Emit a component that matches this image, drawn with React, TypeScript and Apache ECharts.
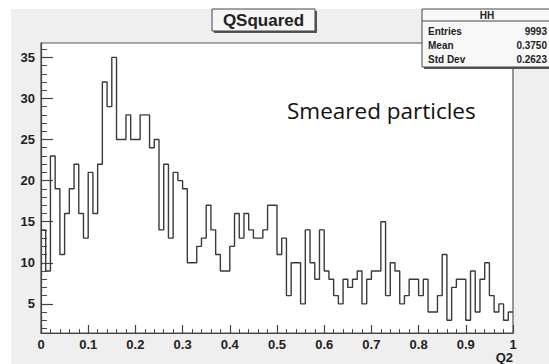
import React, { useEffect, useRef } from "react";
import * as echarts from "echarts";

// 100 bins on [0, 1]
const binCounts: number[] = [
  14, 9, 23, 19, 11, 16, 19, 22, 16, 13,
  21, 16, 22, 32, 29, 35, 25, 25, 28, 25,
  25, 28, 28, 24, 25, 14, 22, 13, 21, 20,
  19, 10, 10, 12, 13, 17, 14, 11, 9, 9,
  12, 16, 13, 16, 14, 13, 13, 14, 17, 17,
  11, 13, 6, 10, 10, 5, 14, 10, 8, 14,
  9, 8, 6, 5, 8, 7, 8, 9, 5, 8,
  9, 9, 15, 6, 10, 9, 5, 6, 8, 8,
  6, 8, 4, 4, 6, 11, 3, 7, 8, 8,
  3, 9, 4, 8, 10, 6, 4, 5, 3, 4,
];
const xMin = 0;
const xMax = 1;
const yMin = 1.45;
const yMax = 36.75;
const yMajorTicks: number[] = [5, 10, 15, 20, 25, 30, 35];
const yMinorTicks: number[] = [
  2, 3, 4, 6, 7, 8, 9, 11, 12, 13, 14, 16, 17, 18, 19, 21, 22, 23, 24,
  26, 27, 28, 29, 31, 32, 33, 34, 36,
];
const titleText = "QSquared";
const statsTitle = "HH";
const statsLabels: string[] = ["Entries", "Mean", "Std Dev"];
const statsValues: string[] = ["9993", "0.3750", "0.2623"];
const annotation = "Smeared particles";
const xAxisName = "Q2";

const W = 549;
const H = 364;
const FRAME = { left: 41, right: 513, top: 43, bottom: 333 };
const AXIS_COLOR = "#444";
const FONT = "'Liberation Sans', Arial, sans-serif";

export default function App() {
  const ref = useRef<HTMLDivElement>(null);
  useEffect(() => {
    if (!ref.current) return;
    const chart = echarts.init(ref.current, undefined, { renderer: "svg" });
    const nBins = binCounts.length;
    const step = (xMax - xMin) / nBins;
    const data: [number, number][] = binCounts.map((v, i) => [xMin + i * step, v]);
    data.push([xMax, binCounts[nBins - 1]]);

    const sBoxL = 422;
    const sBoxT = 9;
    const sBoxW = 135;
    const sBoxH = 58;
    const rowYs = [31, 45, 59];

    const graphic: any[] = [
      { type: "rect", silent: true, shape: { x: 0, y: 0, width: W, height: 9 }, style: { fill: "#fff" }, z: 0 },
      { type: "rect", silent: true, shape: { x: 0, y: 0, width: 11, height: H }, style: { fill: "#fff" }, z: 0 },
      // title box
      { type: "rect", shape: { x: 214, y: 11, width: 103, height: 22 }, style: { fill: "#555" }, z: 10 },
      { type: "rect", shape: { x: 212, y: 9, width: 103, height: 22 }, style: { fill: "#f6f6f6", stroke: "#444", lineWidth: 1 }, z: 11 },
      {
        type: "text", z: 12,
        style: { text: titleText, x: 263.5, y: 20.5, align: "center", verticalAlign: "middle", font: `bold 17px ${FONT}`, fill: "#222" },
      },
      // stats box
      { type: "rect", shape: { x: sBoxL + 2, y: sBoxT + 2, width: sBoxW, height: sBoxH }, style: { fill: "#555" }, z: 10 },
      { type: "rect", shape: { x: sBoxL, y: sBoxT, width: sBoxW, height: sBoxH }, style: { fill: "#f8f8f8", stroke: "#444", lineWidth: 1 }, z: 11 },
      { type: "line", shape: { x1: sBoxL, y1: 21, x2: sBoxL + sBoxW, y2: 21 }, style: { stroke: "#444", lineWidth: 1 }, z: 12 },
      {
        type: "text", z: 12,
        style: { text: statsTitle, x: 487, y: 15.5, align: "center", verticalAlign: "middle", font: `bold 10px ${FONT}`, fill: "#222" },
      },
      ...statsLabels.map((t, i) => ({
        type: "text", z: 12,
        style: { text: t, x: sBoxL + 6, y: rowYs[i], align: "left", verticalAlign: "middle", font: `bold 10px ${FONT}`, fill: "#222" },
      })),
      ...statsValues.map((t, i) => ({
        type: "text", z: 12,
        style: { text: t, x: 547, y: rowYs[i], align: "right", verticalAlign: "middle", font: `bold 10px ${FONT}`, fill: "#222" },
      })),
      // annotation
      {
        type: "text", z: 12,
        style: { text: annotation, x: 287, y: 110, align: "left", verticalAlign: "middle", font: `22.5px 'Open Sans', sans-serif`, fill: "#111" },
      },
      // x axis name
      {
        type: "text", z: 12,
        style: { text: xAxisName, x: 513, y: 357, align: "right", verticalAlign: "middle", font: `bold 13px ${FONT}`, fill: "#222" },
      },
    ];

    chart.setOption({
      animation: false,
      backgroundColor: "#efefef",
      grid: {
        show: true,
        left: FRAME.left,
        right: W - FRAME.right,
        top: FRAME.top,
        bottom: H - FRAME.bottom,
        backgroundColor: "#fff",
        borderColor: "#555",
        borderWidth: 1.2,
      },
      xAxis: {
        type: "value",
        min: xMin,
        max: xMax,
        interval: 0.1,
        axisLine: { show: true, onZero: false, lineStyle: { color: AXIS_COLOR, width: 1.2 } },
        axisTick: { show: true, inside: true, length: 8, lineStyle: { color: AXIS_COLOR, width: 1.2 } },
        minorTick: { show: true, splitNumber: 5, length: 4, lineStyle: { color: AXIS_COLOR, width: 1 } },
        splitLine: { show: false },
        minorSplitLine: { show: false },
        axisLabel: { color: "#222", fontWeight: "bold", fontSize: 13, fontFamily: FONT, margin: 5 },
      },
      yAxis: [
        {
          type: "value",
          min: yMin,
          max: yMax,
          axisLine: { show: true, onZero: false, lineStyle: { color: AXIS_COLOR, width: 1.2 } },
          axisTick: { show: true, inside: true, length: 12, customValues: yMajorTicks, lineStyle: { color: AXIS_COLOR, width: 1.2 } },
          axisLabel: { customValues: yMajorTicks, color: "#222", fontWeight: "bold", fontSize: 13, fontFamily: FONT, margin: 6 },
          splitLine: { show: false },
        },
        {
          type: "value",
          min: yMin,
          max: yMax,
          position: "left",
          axisLine: { show: false },
          axisTick: { show: true, inside: true, length: 6, customValues: yMinorTicks, lineStyle: { color: AXIS_COLOR, width: 1 } },
          axisLabel: { show: false },
          splitLine: { show: false },
        },
      ],
      series: [
        {
          type: "line",
          step: "end",
          data,
          yAxisIndex: 0,
          symbol: "none",
          clip: true,
          lineStyle: { color: "#3a3a3a", width: 1.4 },
        },
      ],
      graphic,
    });
    return () => chart.dispose();
  }, []);
  return (
    <div
      ref={ref}
      style={{ position: "fixed", left: 0, top: 0, width: W, height: H }}
    />
  );
}
